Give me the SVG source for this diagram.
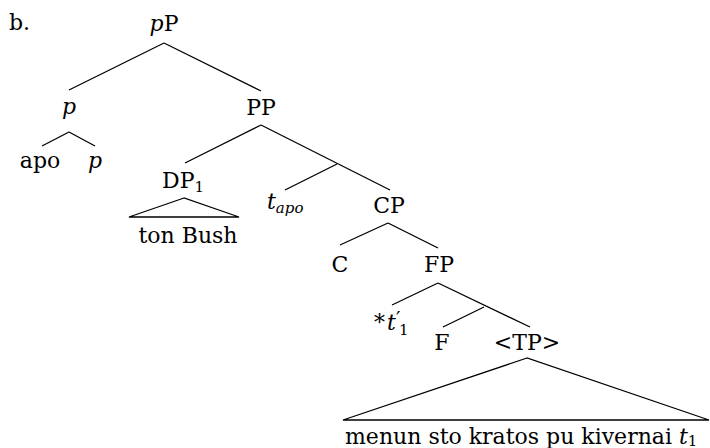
<svg xmlns="http://www.w3.org/2000/svg" width="710" height="448" viewBox="0 0 710 448">
<style>
text{font-family:"DejaVu Serif","Liberation Serif",serif;font-size:22px;fill:#000}
.m{text-anchor:middle}
.i{font-style:italic}
.s{font-size:15px}
#edges line,#edges polygon{stroke:#000;stroke-width:1.3;fill:none}
</style>
<rect width="710" height="448" fill="#fff"/>
<g id="edges">
<line x1="164" y1="43" x2="69" y2="90"/>
<line x1="164" y1="43" x2="261" y2="91"/>
<line x1="69" y1="132" x2="42" y2="146"/>
<line x1="69" y1="132" x2="95" y2="146"/>
<line x1="261" y1="125" x2="185" y2="163"/>
<line x1="261" y1="125" x2="390" y2="190"/>
<line x1="337" y1="164" x2="285" y2="190"/>
<polygon points="184,198 129,217 239,217"/>
<line x1="388" y1="223" x2="340" y2="245"/>
<line x1="388" y1="223" x2="438" y2="248"/>
<line x1="438" y1="283" x2="392" y2="305"/>
<line x1="438" y1="283" x2="530" y2="327"/>
<line x1="484" y1="307" x2="443" y2="327"/>
<polygon points="527,358 343,420 709,420"/>
</g>
<g id="label-b"><text x="9" y="30">b.</text></g>
<g id="pP"><text class="m" x="164" y="31"><tspan class="i">p</tspan>P</text></g>
<g id="p1"><text class="m i" x="69" y="114">p</text></g>
<g id="PP"><text class="m" x="261" y="115">PP</text></g>
<g id="apo"><text class="m" x="40" y="168">apo</text></g>
<g id="p2"><text class="m i" x="95" y="168">p</text></g>
<g id="DP1"><text x="162" y="188">DP<tspan class="s" dy="4">1</tspan></text></g>
<g id="tonBush"><text class="m" x="188" y="243">ton Bush</text></g>
<g id="tapo"><text x="267" y="209"><tspan class="i">t</tspan><tspan class="s i" dy="4">apo</tspan></text></g>
<g id="CP"><text class="m" x="389" y="213">CP</text></g>
<g id="C"><text class="m" x="340" y="272">C</text></g>
<g id="FP"><text class="m" x="439" y="272">FP</text></g>
<g id="t1prime">
<text x="374" y="330">*</text>
<text class="i" x="387" y="330">t</text>
<text x="396" y="326" style="font-size:20px">′</text>
<text class="s" x="399" y="335">1</text>
</g>
<g id="F"><text class="m" x="442" y="350">F</text></g>
<g id="TP"><text class="m" x="527" y="350">&lt;TP&gt;</text></g>
<g id="menun"><text x="345" y="444">menun sto kratos pu kivernai <tspan class="i">t</tspan><tspan class="s" dy="2">1</tspan></text></g>
</svg>
